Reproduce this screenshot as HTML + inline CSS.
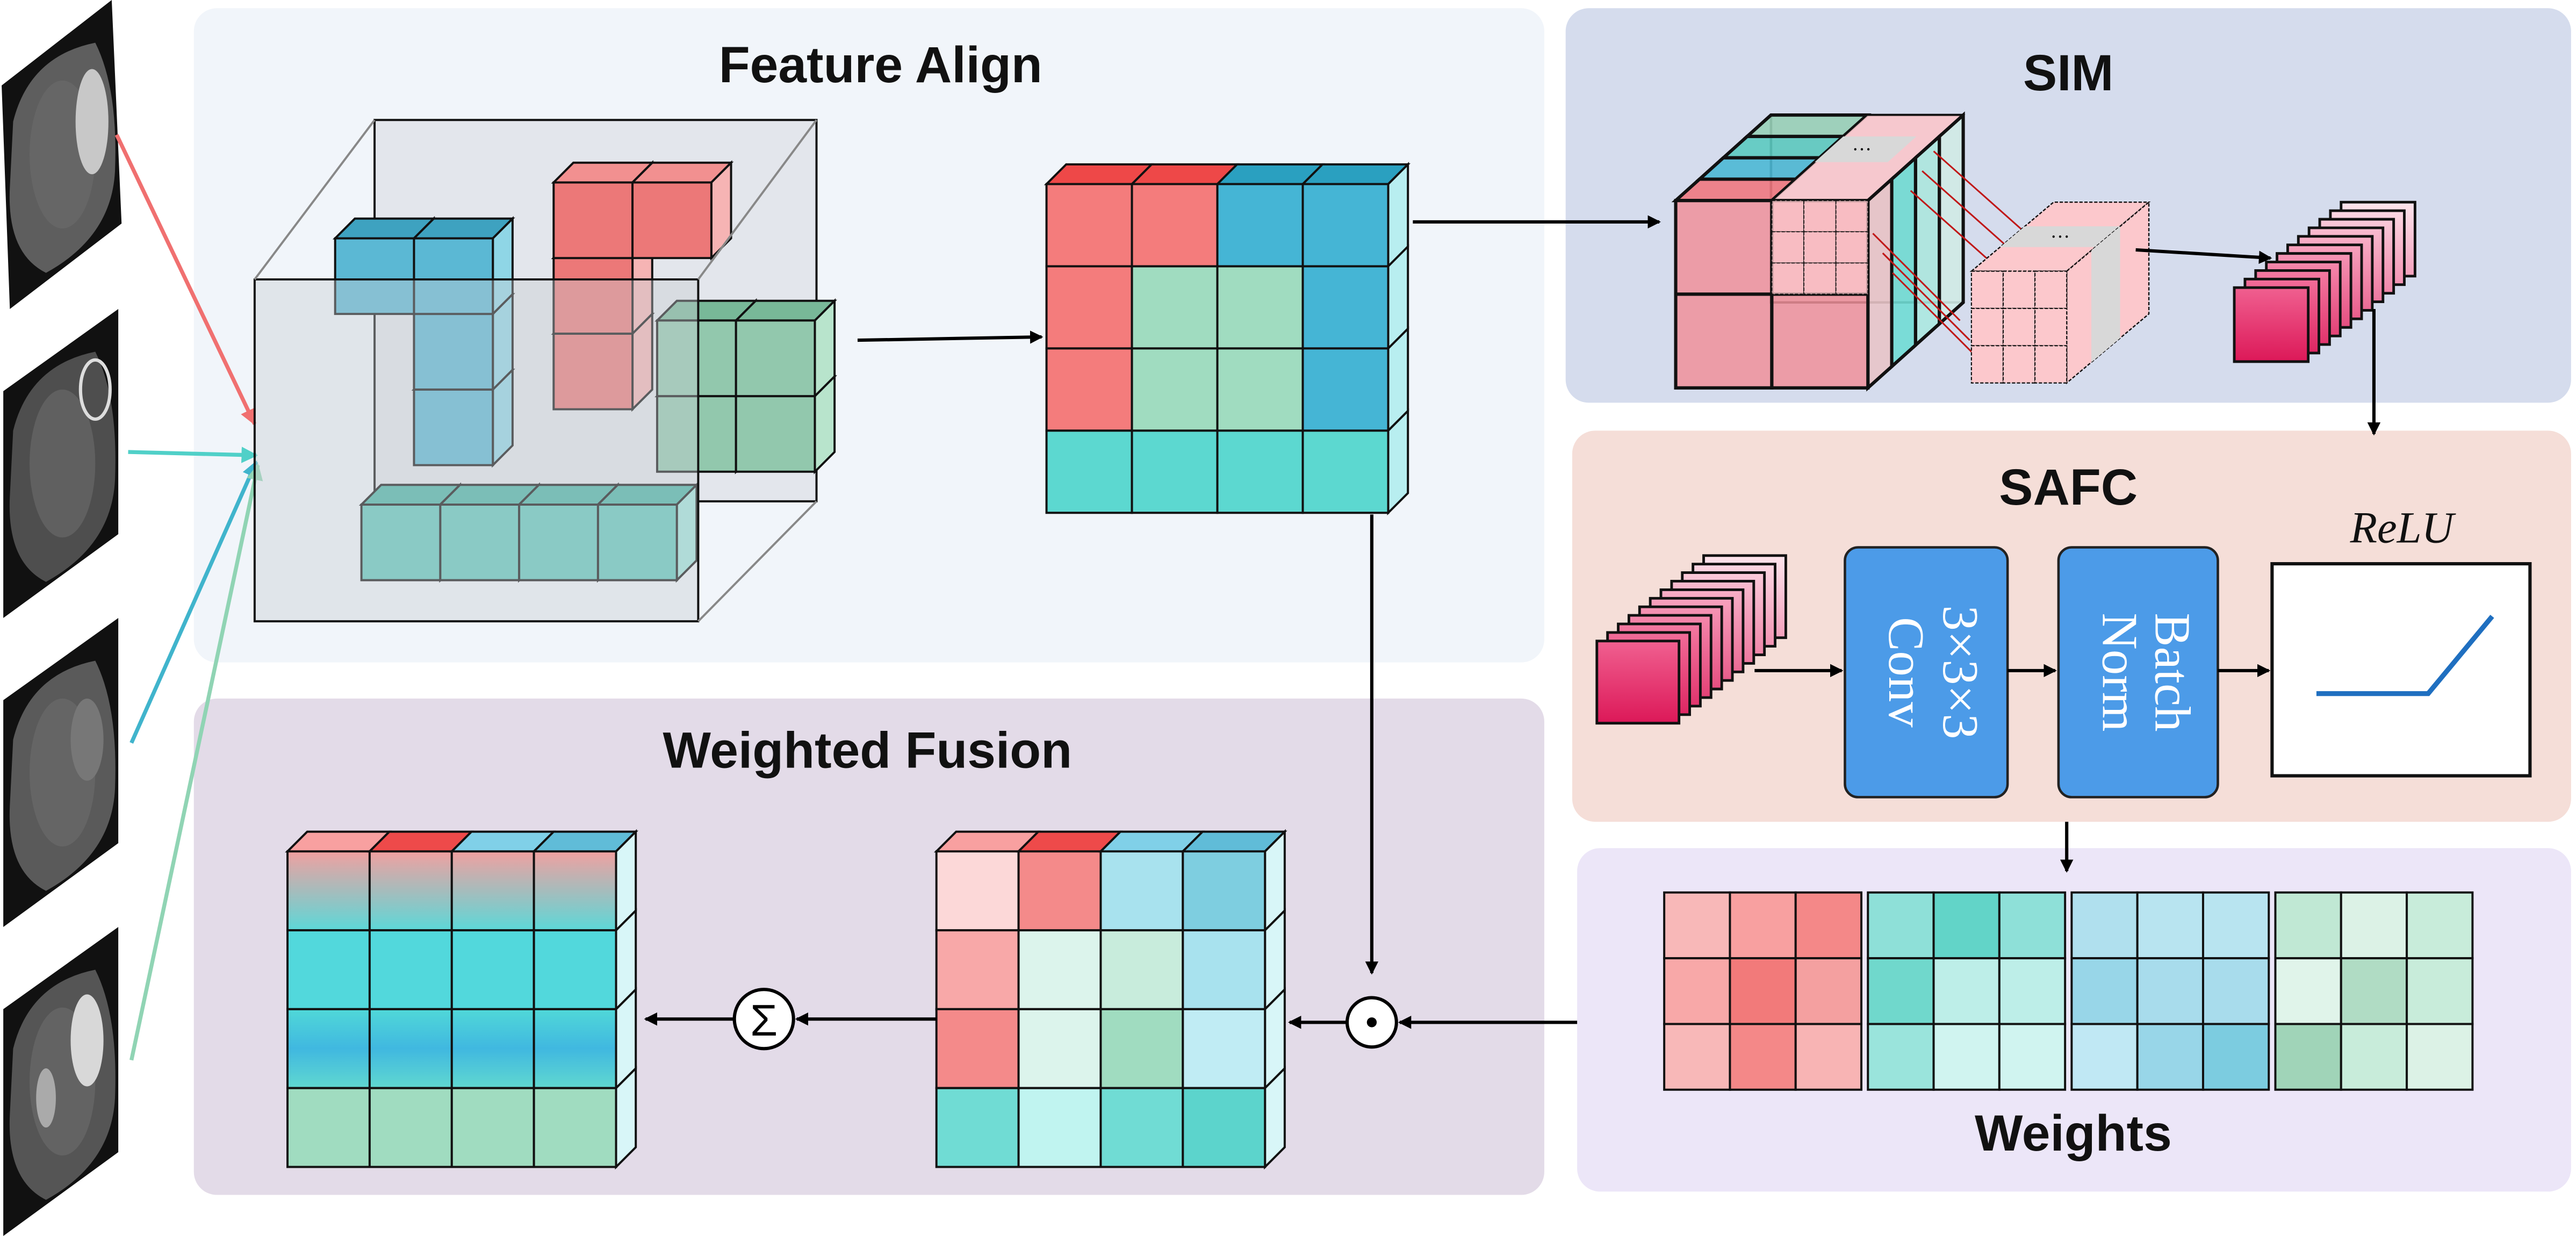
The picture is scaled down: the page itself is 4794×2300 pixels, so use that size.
<!DOCTYPE html>
<html><head><meta charset="utf-8"><style>
html,body{margin:0;padding:0;background:#fff;width:4794px;height:2300px;overflow:hidden}
svg{display:block}
.t{font-family:"Liberation Sans",sans-serif;font-weight:bold;font-size:31px;fill:#111;text-anchor:middle}
.s{font-family:"Liberation Serif",serif;font-size:31px;fill:#fff;text-anchor:middle}
</style></head><body>
<svg id="g" width="4794" height="2300" viewBox="0 0 1568 752" preserveAspectRatio="none" xmlns="http://www.w3.org/2000/svg">
<defs>
<marker id="ar" markerWidth="8" markerHeight="8" refX="7" refY="4" orient="auto" markerUnits="userSpaceOnUse"><path d="M0,0 L8,4 L0,8 z" fill="#000"/></marker>
<marker id="arR" markerWidth="10" markerHeight="10" refX="9" refY="5" orient="auto" markerUnits="userSpaceOnUse"><path d="M0,0 L10,5 L0,10 z" fill="#f07070"/></marker>
<marker id="arC" markerWidth="10" markerHeight="10" refX="9" refY="5" orient="auto" markerUnits="userSpaceOnUse"><path d="M0,0 L10,5 L0,10 z" fill="#50d0c8"/></marker>
<marker id="arB" markerWidth="10" markerHeight="10" refX="9" refY="5" orient="auto" markerUnits="userSpaceOnUse"><path d="M0,0 L10,5 L0,10 z" fill="#40b4cc"/></marker>
<marker id="arG" markerWidth="10" markerHeight="10" refX="9" refY="5" orient="auto" markerUnits="userSpaceOnUse"><path d="M0,0 L10,5 L0,10 z" fill="#90d4b4"/></marker>
<linearGradient id="g0" x1="0" y1="0" x2="0" y2="1"><stop offset="0" stop-color="#f0a0a0"/><stop offset="1" stop-color="#5cd8d8"/></linearGradient>
<linearGradient id="g2" x1="0" y1="0" x2="0" y2="1"><stop offset="0" stop-color="#50d8d8"/><stop offset=".5" stop-color="#40b8e0"/><stop offset="1" stop-color="#60d8d0"/></linearGradient>
</defs>
<rect x="118" y="5" width="822" height="398" rx="14" fill="#f1f5fa"/>
<rect x="953" y="5" width="612" height="240" rx="14" fill="#d5dced"/>
<rect x="957" y="262" width="608" height="238" rx="14" fill="#f5ded8"/>
<rect x="960" y="516" width="605" height="209" rx="14" fill="#ece6f8"/>
<rect x="118" y="425" width="822" height="302" rx="14" fill="#e3dbe8"/>
<text class="t" x="536" y="50">Feature Align</text>
<text class="t" x="1259" y="55">SIM</text>
<text class="t" x="1259" y="307">SAFC</text>
<text class="t" x="528" y="467">Weighted Fusion</text>
<text class="t" x="1262" y="700">Weights</text>
<g id="dyn"></g>
<rect x="1123" y="333" width="99" height="152" rx="8" fill="#4c9be8" stroke="#222" stroke-width="1.5"/>
<text class="s" transform="rotate(90 1183 409)" x="1183" y="409">3×3×3</text>
<text class="s" transform="rotate(90 1150 409)" x="1150" y="409">Conv</text>
<rect x="1253" y="333" width="97" height="152" rx="8" fill="#4c9be8" stroke="#222" stroke-width="1.5"/>
<text class="s" transform="rotate(90 1312 409)" x="1312" y="409">Batch</text>
<text class="s" transform="rotate(90 1280 409)" x="1280" y="409">Norm</text>
<rect x="1383" y="343" width="157" height="129" fill="#fff" stroke="#111" stroke-width="2"/>
<polyline points="1410,422 1478,422 1517,375" fill="none" stroke="#1f6fc0" stroke-width="3"/>
<text x="1462" y="330" font-family="Liberation Serif,serif" font-style="italic" font-size="27" text-anchor="middle" fill="#111">ReLU</text>
<g stroke="#000" stroke-width="2" fill="none" marker-end="url(#ar)">
<line x1="522" y1="207" x2="634" y2="205"/>
<line x1="860" y1="135" x2="1010" y2="135"/>
<line x1="835" y1="313" x2="835" y2="592"/>
<line x1="960" y1="622" x2="852" y2="622"/>
<line x1="820" y1="622" x2="785" y2="622"/>
<line x1="570" y1="620" x2="485" y2="620"/>
<line x1="447" y1="620" x2="393" y2="620"/>
<line x1="1300" y1="152" x2="1382" y2="157"/>
<line x1="1445" y1="188" x2="1445" y2="264"/>
<line x1="1068" y1="408" x2="1121" y2="408"/>
<line x1="1222" y1="408" x2="1251" y2="408"/>
<line x1="1350" y1="408" x2="1381" y2="408"/>
<line x1="1258" y1="500" x2="1258" y2="530"/>
</g>
<circle cx="835" cy="622" r="15" fill="#fff" stroke="#000" stroke-width="2"/>
<circle cx="835" cy="622" r="3" fill="#000"/>
<circle cx="465" cy="620" r="18" fill="#fff" stroke="#000" stroke-width="2"/>
<text x="465" y="630" font-family="Liberation Sans,sans-serif" font-size="27" text-anchor="middle">Σ</text>
</svg>
<script>
var NS="http://www.w3.org/2000/svg",G=document.getElementById("dyn"),DEF=document.querySelector("defs");
function el(t,a,p){var e=document.createElementNS(NS,t);for(var k in a)e.setAttribute(k,a[k]);(p||G).appendChild(e);return e;}
function P(p){return p.map(function(q){return q.join(",")}).join(" ");}
function poly(p,f,o,sw,dash){var a={points:P(p),fill:f,stroke:"#111","stroke-width":sw==null?1.3:sw,"fill-opacity":o==null?1:o};if(dash)a["stroke-dasharray"]=dash;el("polygon",a);}
function cube(x,y,w,h,d,fr,tp,sd,o){
 poly([[x,y],[x+d,y-d],[x+w+d,y-d],[x+w,y]],tp,o);
 poly([[x+w,y],[x+w+d,y-d],[x+w+d,y+h-d],[x+w,y+h]],sd,o);
 poly([[x,y],[x+w,y],[x+w,y+h],[x,y+h]],fr,o);}
function grid(x,y,cw,ch,d,cols,tops,side){
 for(var r=0;r<cols.length;r++)for(var c=0;c<cols[r].length;c++){
  var cx=x+c*cw,cy=y+r*ch;
  if(r==0)poly([[cx,cy],[cx+d,cy-d],[cx+cw+d,cy-d],[cx+cw,cy]],tops[c]);
  if(c==cols[r].length-1)poly([[cx+cw,cy],[cx+cw+d,cy-d],[cx+cw+d,cy+ch-d],[cx+cw,cy+ch]],side);
  poly([[cx,cy],[cx+cw,cy],[cx+cw,cy+ch],[cx,cy+ch]],cols[r][c]);}}
// MRI images
[0,188,376,564].forEach(function(o,i){
 var pts=[[1,52+o],[68,0+o],[74,136+o],[6,188+o]];
 if(i>0)pts=[[2,50+o],[72,0+o],[72,137+o],[2,188+o]];
 poly(pts,"#111",1,0);
 var cx=38,cy=94+o;
 el("path",{d:"M"+(cx-30)+","+(cy-20)+" Q"+(cx-20)+","+(cy-60)+" "+(cx+20)+","+(cy-68)+" Q"+(cx+34)+","+(cy-40)+" "+(cx+32)+","+(cy+10)+" Q"+(cx+30)+","+(cy+50)+" "+(cx-10)+","+(cy+72)+" Q"+(cx-34)+","+(cy+60)+" "+(cx-32)+","+(cy+20)+" Z",fill:["#5e5e5e","#4e4e4e","#5a5a5a","#555"][i]});
 el("ellipse",{cx:cx,cy:cy,rx:20,ry:45,fill:"#6c6c6c","fill-opacity":0.6});
 if(i==0){el("ellipse",{cx:cx+18,cy:cy-20,rx:10,ry:32,fill:"#c8c8c8"});}
 if(i==1){el("ellipse",{cx:cx+20,cy:cy-45,rx:9,ry:18,fill:"none",stroke:"#ddd","stroke-width":2});}
 if(i==2){el("ellipse",{cx:cx+15,cy:cy-20,rx:10,ry:25,fill:"#777"});}
 if(i==3){el("ellipse",{cx:cx+15,cy:cy-25,rx:10,ry:28,fill:"#d8d8d8"});el("ellipse",{cx:cx-10,cy:cy+10,rx:6,ry:18,fill:"#aaa"});}
});
function ln(a,b,c,d,col,m){el("line",{x1:a,y1:b,x2:c,y2:d,stroke:col,"stroke-width":2.4,"marker-end":"url(#"+m+")"});}
ln(71,82,155,258,"#f07070","arR");
ln(78,275,156,277,"#50d0c8","arC");
ln(80,452,156,281,"#40b4cc","arB");
ln(80,645,157,283,"#90d4b4","arG");
// feature align
poly([[228,73],[497,73],[497,305],[228,305]],"#c8ccd2",0.35,1.3);
var B=["#5bb8d4","#3ea2c0","#8fd6e6"],R=["#ec7878","#f29090","#f6b4b4"],Gn=["#92c8ad","#78b898","#b8e4cc"],T=["#62c8bc","#48b4a6","#a0e4dc"];
function blk(x,y,c){cube(x,y,48,46,12,c[0],c[1],c[2]);}
blk(252,237,B);blk(252,191,B);blk(204,145,B);blk(252,145,B);
blk(337,203,R);blk(337,157,R);blk(337,111,R);blk(385,111,R);
blk(400,241,Gn);blk(448,241,Gn);blk(400,195,Gn);blk(448,195,Gn);
blk(220,307,T);blk(268,307,T);blk(316,307,T);blk(364,307,T);
poly([[155,170],[425,170],[425,378],[155,378]],"#c8ccd2",0.4,1.3);
el("line",{x1:155,y1:170,x2:228,y2:73,stroke:"#888","stroke-width":1.3});
el("line",{x1:425,y1:170,x2:497,y2:73,stroke:"#888","stroke-width":1.3});
el("line",{x1:425,y1:378,x2:497,y2:305,stroke:"#888","stroke-width":1.3});
var r_="#f47c7c",b_="#45b5d5",g_="#a0dcc0",t_="#5cd8d0";
grid(637,112,52,50,12,[[r_,r_,b_,b_],[r_,g_,g_,b_],[r_,g_,g_,b_],[t_,t_,t_,t_]],["#ee4848","#ee4848","#2aa0c0","#2aa0c0"],"#b8eef0");
grid(570,518,50,48,12,[["#fcd8d8","#f48a8a","#a8e2ee","#7ecee0"],["#f8a8a8","#dcf4ec","#c8ecdc","#a8e2ee"],["#f48a8a","#dcf4ec","#a0dcc0","#c0ecf4"],["#70dcd4","#c0f4f0","#70dcd4","#5cd4cc"]],["#f8a0a0","#ee4a4a","#80d0e8","#60bcd8"],"#d8f6f8");
grid(175,518,50,48,12,[["url(#g0)","url(#g0)","url(#g0)","url(#g0)"],["#52d8dc","#52d8dc","#52d8dc","#52d8dc"],["url(#g2)","url(#g2)","url(#g2)","url(#g2)"],["#a0dcc0","#a0dcc0","#a0dcc0","#a0dcc0"]],["#f8a0a0","#ee4a4a","#80d0e8","#60bcd8"],"#d8f6f8");
// SIM big cube
var X=1020,Y=122,W=117,H=114,DX=58,DY=-52;
// back faces faint
poly([[X+DX,Y+DY],[X+W+DX,Y+DY],[X+W+DX,Y+H+DY],[X+DX,Y+H+DY]],"#e0a0a4",0.35,1.5);
// top strips (left half colored, right half pink)
var tc=["#f07880","#4cb8d4","#5ccac0","#98d0b8"];
for(var k=0;k<4;k++){var a=k/4,b=(k+1)/4;
 poly([[X+DX*a,Y+DY*a],[X+DX*b,Y+DY*b],[X+W/2+DX*b,Y+DY*b],[X+W/2+DX*a,Y+DY*a]],tc[k],0.9,2);}
poly([[X+W/2,Y],[X+W/2+DX,Y+DY],[X+W+DX,Y+DY],[X+W,Y]],"#fcc8cc",0.85,1);
// side strips
var sc=["#e8c4c8","#70dcd4","#ace8e0","#d0ece8"];
for(var k=0;k<4;k++){var a=k/4,b=(k+1)/4;
 poly([[X+W+DX*a,Y+DY*a],[X+W+DX*b,Y+DY*b],[X+W+DX*b,Y+H+DY*b],[X+W+DX*a,Y+H+DY*a]],sc[k],0.9,2);}
// gray band on inner pink
poly([[X+W/2+DX*0.45,Y+DY*0.45],[X+W/2+DX*0.75,Y+DY*0.75],[X+W+DX*0.75-14,Y+DY*0.75],[X+W+DX*0.45-14,Y+DY*0.45]],"#d8d8d8",1,0);
el("text",{x:X+W/2+DX*0.6+20,y:Y+DY*0.6+4,"font-size":12,"text-anchor":"middle"}).textContent="···";
// front cells
for(var r=0;r<2;r++)for(var c=0;c<2;c++)poly([[X+c*W/2,Y+r*H/2],[X+(c+1)*W/2,Y+r*H/2],[X+(c+1)*W/2,Y+(r+1)*H/2],[X+c*W/2,Y+(r+1)*H/2]],"#f0909a",0.85,2);
// inner pink grid on upper-right cell
for(var i=0;i<3;i++)for(var j=0;j<3;j++){var cw=W/6,ch=H/6;poly([[X+W/2+i*cw,Y+j*ch],[X+W/2+(i+1)*cw,Y+j*ch],[X+W/2+(i+1)*cw,Y+(j+1)*ch],[X+W/2+i*cw,Y+(j+1)*ch]],"#fcc8cc",0.75,0.6,"2,1");}
// red lines
for(var i=0;i<3;i++){el("line",{x1:1177-i*7,y1:92+i*12,x2:1240-i*7,y2:148+i*12,stroke:"#c01818","stroke-width":1});}
for(var i=0;i<3;i++){el("line",{x1:1140+i*6,y1:142+i*12,x2:1193+i*6,y2:195+i*12,stroke:"#c01818","stroke-width":1});}
// small cube
var x=1200,y=165,w=58,h=68,dx=50,dy=-42;
poly([[x,y],[x+dx,y+dy],[x+w+dx,y+dy],[x+w,y]],"#fcc8cc",1,0.8,"2,1");
poly([[x+dx*0.35,y+dy*0.35],[x+dx*0.65,y+dy*0.65],[x+w+dx*0.65,y+dy*0.65],[x+w+dx*0.35,y+dy*0.35]],"#d8d8d8",1,0);
el("text",{x:x+w/2+dx/2,y:y+dy/2+4,"font-size":12,"text-anchor":"middle"}).textContent="···";
poly([[x+w,y],[x+w+dx,y+dy],[x+w+dx,y+h+dy],[x+w,y+h]],"#fcc8cc",1,0.8,"2,1");
poly([[x+w+dx*0.3,y+dy*0.3],[x+w+dx*0.65,y+dy*0.65],[x+w+dx*0.65,y+h+dy*0.65],[x+w+dx*0.3,y+h+dy*0.3]],"#d8d8d8",1,0);
for(var i=0;i<3;i++)for(var j=0;j<3;j++)poly([[x+i*w/3,y+j*h/3],[x+(i+1)*w/3,y+j*h/3],[x+(i+1)*w/3,y+(j+1)*h/3],[x+i*w/3,y+(j+1)*h/3]],"#fcc8cc",1,0.7,"2,1");
// stacks
function hx(a,b,t){var A=parseInt(a.slice(1),16),B2=parseInt(b.slice(1),16),o="#";for(var s=16;s>=0;s-=8){var v=Math.round(((A>>s)&255)*(1-t)+((B2>>s)&255)*t);o+=("0"+v.toString(16)).slice(-2);}return o;}
var gid=0;
function stack(x,y,n,s,dx,dy){for(var i=n;i>=0;i--){var t=i/n;var id="sg"+(gid++);var lg=el("linearGradient",{id:id,x1:0,y1:0,x2:0,y2:1},DEF);
 el("stop",{offset:0,"stop-color":hx("#f06090","#fde4ec",t)},lg);el("stop",{offset:1,"stop-color":hx("#dc1858","#f4a0bc",t)},lg);
 poly([[x+i*dx,y-i*dy],[x+i*dx+s,y-i*dy],[x+i*dx+s,y-i*dy+s],[x+i*dx,y-i*dy+s]],"url(#"+id+")",1,1.6);}}
stack(1360,175,10,45,6.5,5.2);
stack(972,390,10,50,6.5,5.2);
// weights
var W2=[["#f8b8b8","#f8a0a0","#f48888","#f8a8a8","#f27a7a","#f4a0a0","#f8b8b8","#f48888","#f8b4b4"],
["#8ee0d8","#62d4c8","#8ee0d8","#70d8cc","#bdeee8","#bdeee8","#9ae4dc","#d0f4f0","#d0f4f0"],
["#b0e0ee","#b8e4f0","#b8e4f0","#98d6e8","#a8dcec","#a8dcec","#c0e8f4","#98d6e8","#7ccce0"],
["#c0e8d4","#dcf2e6","#c8ecda","#e0f4ea","#b0dcc4","#c8ecda","#a0d4b8","#c8ecda","#dcf2e6"]];
[1013,1137,1261,1385].forEach(function(x,k){for(var r=0;r<3;r++)for(var c=0;c<3;c++)poly([[x+c*40,543+r*40],[x+c*40+40,543+r*40],[x+c*40+40,583+r*40],[x+c*40,583+r*40]],W2[k][r*3+c]);});
</script>
</body></html>
